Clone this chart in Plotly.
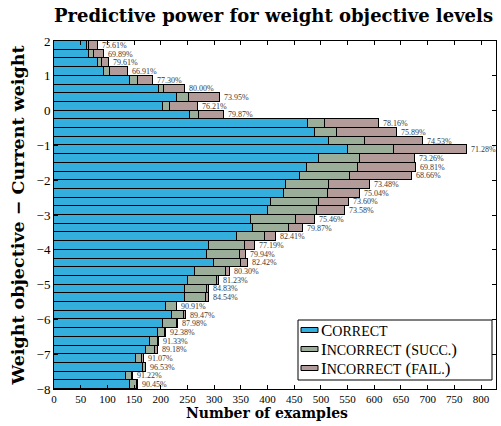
import numpy as np
import plotly.graph_objects as go

# Objective-level bins, listed from the top bin (1.75..2) down to the bottom bin (-8..-7.75)
levels = 1.875 - 0.25 * np.arange(40)

# Example counts per bin
correct = [62, 65, 82, 93, 143, 196, 230, 205, 254, 476, 488, 515, 551, 496, 474, 460,
           435, 430, 407, 401, 369, 373, 342, 291, 287, 300, 265, 251, 246, 246, 210, 221,
           205, 194, 179, 173, 153, 167, 135, 142]
incorrect_succ = [4, 10, 8, 12, 15, 10, 23, 13, 18, 31, 42, 68, 85, 78, 95, 95,
                  81, 83, 89, 92, 84, 67, 54, 67, 61, 51, 57, 54, 41, 38, 20, 23,
                  25, 14, 15, 16, 12, 5, 12, 14]
incorrect_fail = [16, 18, 13, 34, 27, 39, 58, 51, 46, 102, 113, 108, 137, 103, 110, 115,
                  76, 60, 57, 52, 36, 27, 19, 19, 11, 13, 8, 4, 3, 7, 1, 3,
                  3, 2, 2, 5, 3, 1, 1, 1]

totals = [c + s + f for c, s, f in zip(correct, incorrect_succ, incorrect_fail)]

SERIF = "Liberation Serif"
BOLD_SERIF = "DejaVu Serif"
SMALL = 14

W, H = 501, 426
M = dict(l=54, r=5, t=41, b=37)
PW, PH = W - M["l"] - M["r"], H - M["t"] - M["b"]


def px(x):
    """Horizontal pixel position -> paper fraction."""
    return (x - M["l"]) / PW


def py(y):
    """Vertical pixel position (from top) -> paper fraction."""
    return (H - M["b"] - y) / PH


def sc(text):
    """Small-capital run of text."""
    return f"<span style='font-size:{SMALL}px'>{text}</span>"


series = [
    ("C" + sc("ORRECT"), correct, "#34afdd"),
    ("I" + sc("NCORRECT") + " (" + sc("SUCC.") + ")", incorrect_succ, "#9bae9a"),
    ("I" + sc("NCORRECT") + " (" + sc("FAIL.") + ")", incorrect_fail, "#b39b99"),
]

fig = go.Figure()
for name, vals, color in series:
    fig.add_trace(go.Bar(
        y=levels, x=vals, orientation="h", width=0.25, name=name, showlegend=False,
        marker=dict(color=color, line=dict(color="black", width=1)),
    ))

# Accuracy label at the end of each bar
for lv, c, t in zip(levels, correct, totals):
    fig.add_annotation(
        x=t, y=lv, text=f"{100 * c / t:.2f}%", showarrow=False,
        xanchor="left", yanchor="middle", xshift=2,
        font=dict(family=SERIF, size=8, color="#3a3a3a"),
    )

# Legend box in the lower right corner
fig.add_shape(type="rect", xref="paper", yref="paper",
              x0=px(298), x1=px(492), y0=py(380), y1=py(320),
              line=dict(color="black", width=1), fillcolor="white", layer="above")
for i, (name, _, color) in enumerate(series):
    yc = 330 + 19 * i
    fig.add_shape(type="rect", xref="paper", yref="paper",
                  x0=px(301), x1=px(318), y0=py(yc + 2.5), y1=py(yc - 2.5),
                  line=dict(color="black", width=1), fillcolor=color, layer="above")
    fig.add_annotation(xref="paper", yref="paper", x=px(319), y=py(yc + 0.5),
                       xanchor="left", yanchor="middle", showarrow=False, text=name,
                       font=dict(family=SERIF, size=17, color="black"))

# Axis title below the x axis
fig.add_annotation(xref="paper", yref="paper", x=px(267), y=py(413),
                   xanchor="center", yanchor="middle", showarrow=False,
                   text="<b>Number of examples</b>",
                   font=dict(family=BOLD_SERIF, size=14, color="black"))

fig.update_layout(
    width=W, height=H, margin=M,
    paper_bgcolor="white", plot_bgcolor="white",
    barmode="stack", bargap=0, showlegend=False,
    title=dict(
        text="<b>Predictive power for weight objective levels</b>",
        x=0.546, xanchor="center", y=0.962, yanchor="middle",
        font=dict(family=BOLD_SERIF, size=18, color="black"),
    ),
    xaxis=dict(
        range=[0, 828], dtick=50, tick0=0,
        ticks="inside", ticklen=4, tickcolor="black",
        showline=True, linecolor="black", linewidth=1, mirror="ticks",
        showgrid=False, zeroline=False,
        tickfont=dict(family=SERIF, size=11, color="black"),
    ),
    yaxis=dict(
        range=[-8, 2], dtick=1, tick0=0,
        ticks="inside", ticklen=4, tickcolor="black",
        showline=True, linecolor="black", linewidth=1, mirror="ticks",
        showgrid=False, zeroline=False,
        tickfont=dict(family=SERIF, size=13, color="black"),
        title=dict(text="<b>Weight objective − Current weight</b>", standoff=7,
                   font=dict(family=BOLD_SERIF, size=17.5, color="black")),
    ),
)

fig.write_html("out.html")
